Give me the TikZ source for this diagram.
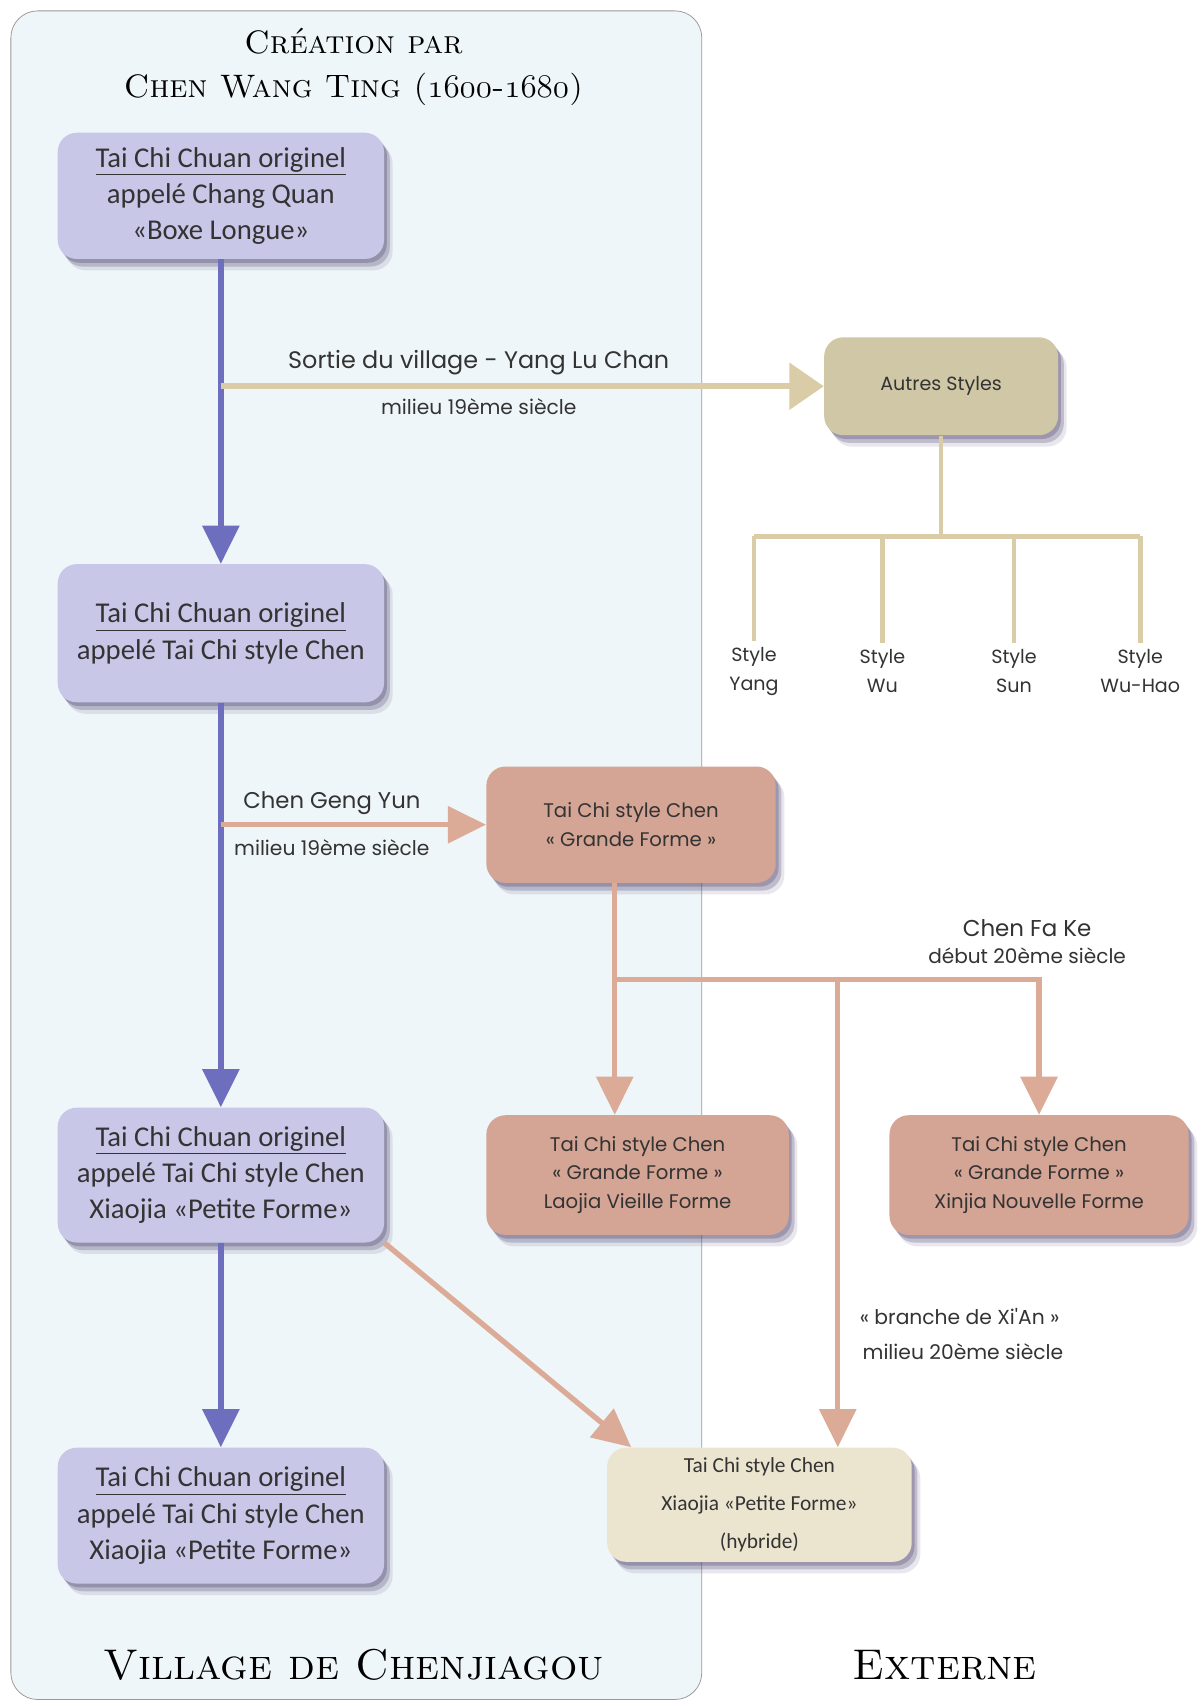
\documentclass[tikz,border=0pt]{standalone}
\usepackage{fontspec}
\newfontfamily\boxfont{Carlito}
\newfontfamily\gothfont{Poppins}
\usetikzlibrary{arrows.meta,shadows}
\definecolor{panelfill}{HTML}{EFF6F9}
\definecolor{lavbox}{HTML}{C9C7E8}
\definecolor{blueline}{HTML}{6E6EBE}
\definecolor{khakibox}{HTML}{CFC7A5}
\definecolor{khakiline}{HTML}{D9CCA6}
\definecolor{salmonbox}{HTML}{D4A494}
\definecolor{salmonline}{HTML}{DBAB97}
\definecolor{creambox}{HTML}{EBE5D0}
\definecolor{shadowc}{HTML}{4A3F6B}
\definecolor{textgray}{HTML}{333333}
\newcommand\osn[1]{{\usefont{OML}{cmm}{m}{it}#1}}
\begin{document}
\begin{tikzpicture}[x=0.02cm,y=-0.02cm,>={Triangle[width=19pt,length=20pt]},
	shadowed/.style={drop shadow={shadow xshift=4.5pt,shadow yshift=-6pt,fill=shadowc,opacity=.12},
		drop shadow={shadow xshift=3pt,shadow yshift=-4pt,fill=shadowc,opacity=.25},
		drop shadow={shadow xshift=1.5pt,shadow yshift=-2pt,fill=shadowc,opacity=.3}},
	village/.style={shadowed,rounded corners=10pt,fill=lavbox,minimum width=6cm,align=center,text=textgray,font=\boxfont\fontsize{15}{19}\selectfont},
	outside/.style={shadowed,rounded corners=10pt,align=center,text=textgray,font=\gothfont\fontsize{10.3}{15}\selectfont},
	lbl/.style={text=textgray,font=\gothfont\fontsize{12.5}{14}\selectfont},
	date/.style={text=textgray,font=\gothfont\fontsize{10.6}{12}\selectfont},
	stylelbl/.style={text=textgray,align=center,font=\gothfont\fontsize{10}{15}\selectfont},
	title/.style={text=black,font=\scshape\fontsize{17}{22}\selectfont},
	bigtitle/.style={text=black,font=\scshape\fontsize{22.5}{27}\selectfont},
	blue/.style={draw=blueline,line width=2.8pt},
	khaki/.style={draw=khakiline,line width=2.4pt},
	salmon/.style={draw=salmonline,line width=2.8pt}]
	\fill[white] (0,0) rectangle (1104,1568);
	\useasboundingbox (0,0) rectangle (1104,1568);
	\draw[draw=gray!80,fill=panelfill,rounded corners=14pt] (10,10) rectangle (645,1562);
	% titres
	\node[title] (creation) at (325,38) {Création par};
	\node[title] (chenwt) at (325,82) {Chen Wang Ting (\osn{1600}-\osn{1680})};
	\node[bigtitle] (chenjiagou) at (325,1530) {Village de Chenjiagou};
	\node[bigtitle] (externe) at (868,1530) {Externe};
	% village
	\node[village,minimum height=2.32cm] (a1) at (203,180) {\underline{Tai Chi Chuan originel}\\appelé Chang Quan\\«Boxe Longue»};
	\node[village,minimum height=2.54cm] (a2) at (203,582) {\underline{Tai Chi Chuan originel}\\appelé Tai Chi style Chen};
	\node[village,minimum height=2.48cm] (a3) at (203,1080) {\underline{Tai Chi Chuan originel}\\appelé Tai Chi style Chen\\Xiaojia «Petite Forme»};
	\node[village,minimum height=2.5cm] (a4) at (203,1393) {\underline{Tai Chi Chuan originel}\\appelé Tai Chi style Chen\\Xiaojia «Petite Forme»};
	% externe
	\node[outside,fill=khakibox,minimum width=4.3cm,minimum height=1.8cm,font=\gothfont\fontsize{10}{15}\selectfont] (autres) at (865,355) {Autres Styles};
	\node[outside,fill=salmonbox,minimum width=5.32cm,minimum height=2.14cm] (grande) at (580,758) {Tai Chi style Chen\\« Grande Forme »};
	\node[outside,fill=salmonbox,minimum width=5.56cm,minimum height=2.2cm] (laojia) at (586,1080) {Tai Chi style Chen\\« Grande Forme »\\Laojia Vieille Forme};
	\node[outside,fill=salmonbox,minimum width=5.5cm,minimum height=2.2cm] (xinjia) at (955,1080) {Tai Chi style Chen\\« Grande Forme »\\Xinjia Nouvelle Forme};
	\node[outside,fill=creambox,minimum width=5.6cm,minimum height=2.1cm,font=\boxfont\fontsize{11.2}{20}\selectfont] (hybride) at (698,1383) {Tai Chi style Chen\\Xiaojia «Petite Forme»\\(hybride)};
	% styles
	\node[stylelbl] (yang) at (693,617) {Style\\Yang};
	\node[stylelbl] (wu) at (811,617) {Style\\Wu};
	\node[stylelbl] (sun) at (932,617) {Style\\Sun};
	\node[stylelbl] (wuhao) at (1048,617) {Style\\Wu-Hao};
	% etiquettes
	\node[lbl] (sortielbl) at (440,333) {Sortie du village - Yang Lu Chan};
	\node[date] (sortiedate) at (440,374) {milieu 19ème siècle};
	\node[lbl,font=\gothfont\fontsize{11.9}{14}\selectfont] (genglbl) at (305,738) {Chen Geng Yun};
	\node[date] (gengdate) at (305,779) {milieu 19ème siècle};
	\node[lbl,font=\gothfont\fontsize{12}{14}\selectfont] (fakelbl) at (944,853) {Chen Fa Ke};
	\node[date,font=\gothfont\fontsize{10.5}{12}\selectfont] (fakedate) at (944,878) {début 20ème siècle};
	\node[date] (xianlbl) at (882,1210) {« branche de Xi'An »};
	\node[date] (xiandate) at (885,1242) {milieu 20ème siècle};
	% points
	\coordinate (sortie) at (203,355);
	\coordinate (geng) at (203,758);
	\coordinate (fork) at (865,493);
	\coordinate (split) at (565,900);
	\coordinate (xian) at (770,900);
	% fleches
	\draw[blue,->] (a1) -- (a2);
	\draw[blue,->] (a2) -- (a3);
	\draw[blue,->] (a3) -- (a4);
	\draw[khaki,line width=3pt,->,>={Triangle[width=24pt,length=18pt]}] (sortie) -- (autres.west);
	\draw[khaki] (autres.south) -- (fork);
	\draw[khaki] (yang.north |- fork) -- (wuhao.north |- fork);
	\foreach \s in {yang,wu,sun,wuhao}
		\draw[khaki] (\s.north |- fork) -- (\s.north);
	\draw[salmon,->] (geng) -- (grande.west);
	\draw[salmon] (grande.south -| split) -- (split);
	\draw[salmon,->] (split) -- (split |- laojia.north);
	\draw[salmon,->] (split) -- (split -| xinjia.north) -- (xinjia.north);
	\draw[salmon,->] (xian) -- (xian |- hybride.north);
	\draw[salmon,->] (a3.south east) -- ([xshift=.45cm]hybride.north west);
\end{tikzpicture}
\end{document}
